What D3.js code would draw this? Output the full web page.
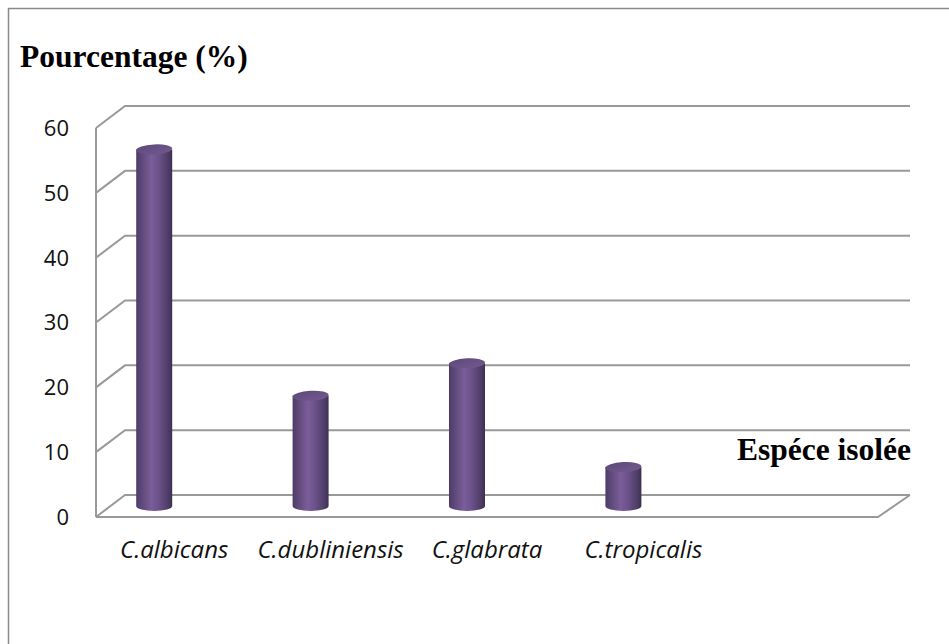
<!DOCTYPE html>
<html>
<head>
<meta charset="utf-8">
<script src="https://cdn.jsdelivr.net/npm/d3@7"></script>
<style>
  html, body { margin: 0; padding: 0; background: #fff; }
  svg { display: block; }
</style>
</head>
<body>
<svg id="chart" width="949" height="644"></svg>
<script>
// Species and their share of isolates (%)
const categories = ["C.albicans", "C.dubliniensis", "C.glabrata", "C.tropicalis", ""];
const values = [55, 17, 22, 6];
const yTicks = [0, 10, 20, 30, 40, 50, 60];
const yTitle = "Pourcentage (%)";
const xTitle = "Espéce isolée";

const svg = d3.select("#chart");
const W = 949, H = 644;

// Outer frame (runs off the right and bottom edges)
svg.append("path")
  .attr("d", `M8.5,${H + 5}V8.5H${W + 5}`)
  .attr("fill", "none").attr("stroke", "#8a8a8a").attr("stroke-width", 1.5);

// Front plane scales, plus the depth offset of the back wall
const x = d3.scaleBand().domain(categories).range([96, 878]);
const y = d3.scaleLinear().domain([0, 60]).range([517, 128]);
const depth = { dx: 29, dy: -22 };
const backRight = 910;

const grid = svg.append("g").attr("fill", "none").attr("stroke", "#999").attr("stroke-width", 2);

// Back wall gridlines and left wall diagonals
yTicks.forEach(t => {
  const yf = y(t), yb = y(t) + depth.dy;
  grid.append("path")
    .attr("d", `M${x.range()[0]},${yf}L${x.range()[0] + depth.dx},${yb}H${backRight}`);
});
// Front vertical axis
grid.append("line")
  .attr("x1", x.range()[0]).attr("x2", x.range()[0])
  .attr("y1", y(60)).attr("y2", y(0));
// Floor front edge and right diagonal
grid.append("path")
  .attr("d", `M${x.range()[0]},${y(0)}H${x.range()[1]}L${backRight},${y(0) + depth.dy}`);

// Value axis labels
svg.append("g").selectAll("text").data(yTicks).join("text")
  .attr("x", 69).attr("y", d => y(d))
  .attr("dy", "0.36em")
  .attr("text-anchor", "end")
  .attr("font-family", "'Open Sans', sans-serif")
  .attr("font-size", 22)
  .attr("fill", "#111")
  .text(d => d);

// Category labels
svg.append("g").selectAll("text").data(categories.filter(c => c)).join("text")
  .attr("x", d => x(d) + x.bandwidth() / 2)
  .attr("y", 558)
  .attr("text-anchor", "middle")
  .attr("font-family", "'Open Sans', sans-serif")
  .attr("font-style", "italic")
  .attr("font-size", 24)
  .attr("fill", "#111")
  .text(d => d);

// Cylinder shading
const defs = svg.append("defs");
const body = defs.append("linearGradient").attr("id", "cylBody")
  .attr("x1", "0%").attr("x2", "100%").attr("y1", "0%").attr("y2", "0%");
[["0%", "#4d3c66"], ["15%", "#5e4879"], ["42%", "#7a5d99"], ["62%", "#6c528b"], ["88%", "#4f3e68"], ["100%", "#3d3051"]]
  .forEach(([o, c]) => body.append("stop").attr("offset", o).attr("stop-color", c));
const cap = defs.append("linearGradient").attr("id", "cylCap")
  .attr("x1", "0%").attr("x2", "100%").attr("y1", "0%").attr("y2", "100%");
[["0%", "#5d4878"], ["100%", "#735a91"]]
  .forEach(([o, c]) => cap.append("stop").attr("offset", o).attr("stop-color", c));

// Cylinders stand at mid depth
const r = 18, ry = 5;
const midDx = -20, midDy = depth.dy / 2;
const bars = svg.append("g");
categories.slice(0, values.length).forEach((c, i) => {
  const cx = x(c) + x.bandwidth() / 2 + midDx;
  const yTop = y(values[i]) + midDy;
  const yBot = y(0) + midDy;
  bars.append("path")
    .attr("d", `M${cx - r},${yTop}V${yBot}A${r},${ry} 0 0 0 ${cx + r},${yBot}V${yTop}Z`)
    .attr("fill", "url(#cylBody)");
  bars.append("ellipse")
    .attr("cx", cx).attr("cy", yTop).attr("rx", r).attr("ry", ry)
    .attr("fill", "url(#cylCap)")
    .attr("transform", `rotate(-3 ${cx} ${yTop})`);
});

// Axis titles
svg.append("text")
  .attr("x", 20).attr("y", 67)
  .attr("font-family", "'Liberation Serif', 'Times New Roman', serif")
  .attr("font-weight", "bold").attr("font-size", 31.5)
  .attr("fill", "#000")
  .text(yTitle);
svg.append("text")
  .attr("x", 737).attr("y", 460)
  .attr("font-family", "'Liberation Serif', 'Times New Roman', serif")
  .attr("font-weight", "bold").attr("font-size", 31.5)
  .attr("fill", "#000")
  .text(xTitle);
</script>
</body>
</html>
